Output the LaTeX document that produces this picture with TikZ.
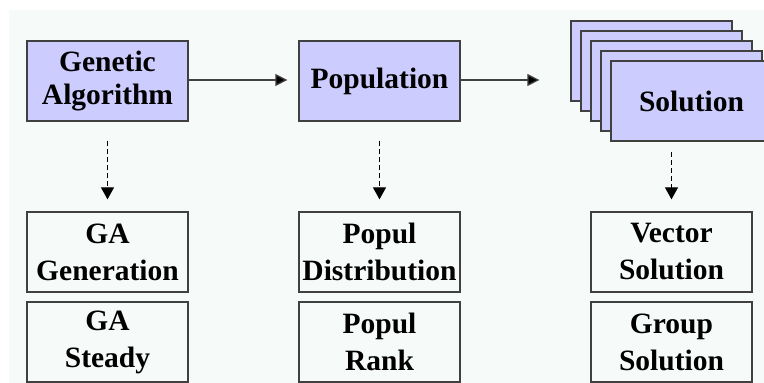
\documentclass[tikz,border=0pt]{standalone}
\usepackage{fontspec}
\setmainfont{Liberation Serif}
\usetikzlibrary{arrows.meta}

\definecolor{pagebg}{RGB}{246,250,248}
\definecolor{lavender}{RGB}{204,204,255}
\definecolor{edge}{RGB}{64,64,64}

\tikzset{
  mainbox/.style={draw=edge, line width=1.3pt, fill=lavender, minimum width=161pt,
    minimum height=80pt, inner sep=0pt, align=center,
    font=\fontsize{29.5}{33}\selectfont\bfseries},
  subbox/.style={draw=edge, line width=1.3pt, fill=pagebg, minimum width=161pt,
    minimum height=80pt, inner sep=0pt, align=center,
    font=\fontsize{29.5}{37}\selectfont\bfseries},
  flow/.style={draw=edge, line width=1.3pt, -{Triangle[length=12pt,width=12pt,fill=black]}},
  detail/.style={draw=black, line width=1.1pt, dash pattern=on 5pt off 3pt,
    -{Triangle[length=12pt,width=13pt,fill=black]}}
}

\begin{document}
\begin{tikzpicture}[x=1pt,y=-1pt]
  \useasboundingbox (0,0) rectangle (764,383);
  \clip (0,0) rectangle (764,383);
  \fill[white] (0,0) rectangle (764,383);
  \fill[pagebg] (9,10) rectangle (764,383);

  % main chain
  \node[mainbox] (ga) at (107.5,81) {Genetic\\Algorithm};
  \node[mainbox] (pop) at (379.5,81) {Population};

  % stack of solutions, back to front
  \node[mainbox] (solA) at (651.5,61) {};
  \node[mainbox] (solB) at (661.5,71) {};
  \node[mainbox] (solC) at (671.5,81) {};
  \node[mainbox] (solD) at (681.5,91) {};
  \node[mainbox] (sol)  at (691.5,101) {Solution};

  % detail boxes
  \node[subbox] (gagen)    at (107.5,252) {GA\\Generation};
  \node[subbox] (gasteady) at (107.5,342) {GA\\Steady};
  \node[subbox] (popdist)  at (379.5,252) {Popul\\Distribution};
  \node[subbox] (poprank)  at (379.5,342) {Popul\\Rank};
  \node[subbox] (vecsol)   at (671.5,252) {Vector\\Solution};
  \node[subbox] (grpsol)   at (671.5,342) {Group\\Solution};

  % connectors
  \draw[flow] ([yshift=1pt]ga.east) -- ([xshift=-11pt,yshift=1pt]pop.west);
  \draw[flow] ([yshift=1pt]pop.east) -- ([xshift=-31pt,yshift=1pt]pop.east -| solA.west);

  \draw[detail] ([yshift=-19pt]ga.south) -- ([yshift=12pt]gagen.north);
  \draw[detail] ([yshift=-19pt]pop.south) -- ([yshift=12pt]popdist.north);
  \coordinate (solout) at (671.5,152);
  \draw[detail] (solout) -- ([yshift=12pt]vecsol.north);
\end{tikzpicture}
\end{document}
